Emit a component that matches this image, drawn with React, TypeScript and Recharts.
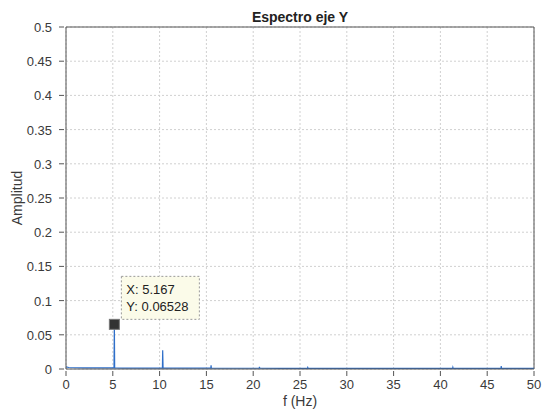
import React from 'react';
import {
  LineChart,
  Line,
  XAxis,
  YAxis,
  CartesianGrid,
  ReferenceLine,
  ReferenceDot,
} from 'recharts';

const freqHz = [
  0, 0.3, 1, 2, 3, 4, 5.13, 5.167, 5.2, 6, 8, 10.3, 10.33, 10.37, 12, 15.47, 15.5, 15.53,
  18, 20.64, 20.67, 20.7, 23, 25.8, 25.83, 25.86, 30, 35, 41.3, 41.33, 41.36, 44,
  46.47, 46.5, 46.53, 48, 50,
];
const amplitud = [
  0.003, 0.0022, 0.0018, 0.0016, 0.0015, 0.0015, 0.0015, 0.06528, 0.0015, 0.0014, 0.0013,
  0.0013, 0.0275, 0.0013, 0.0012, 0.0012, 0.0055, 0.0012, 0.0011, 0.0011, 0.0032, 0.0011,
  0.001, 0.001, 0.0022, 0.001, 0.001, 0.001, 0.001, 0.0025, 0.001, 0.001, 0.001, 0.0042,
  0.001, 0.001, 0.001,
];
const xTicks = [0, 5, 10, 15, 20, 25, 30, 35, 40, 45, 50];
const yTicks = [0, 0.05, 0.1, 0.15, 0.2, 0.25, 0.3, 0.35, 0.4, 0.45, 0.5];
const cursor = { x: 5.167, y: 0.06528 };

const data = freqHz.map((f, i) => ({ f, a: amplitud[i] }));

const FONT = 'Liberation Sans, Arial, sans-serif';
const TEXT = '#3a3a3a';
const AXIS = '#555';

function XTick(props: any) {
  const { x, y, payload } = props;
  return (
    <g>
      <line x1={x} x2={x} y1={y - 1} y2={y - 6} stroke={AXIS} />
      <text x={x} y={y + 12} textAnchor="middle" fontSize={13} fill={TEXT} fontFamily={FONT}>
        {payload.value}
      </text>
    </g>
  );
}

function YTick(props: any) {
  const { x, y, payload } = props;
  return (
    <g>
      <line x1={x + 1} x2={x + 6} y1={y} y2={y} stroke={AXIS} />
      <text x={x - 6} y={y + 5} textAnchor="end" fontSize={13} fill={TEXT} fontFamily={FONT}>
        {payload.value}
      </text>
    </g>
  );
}

function DataTip(props: any) {
  const { cx, cy } = props;
  return (
    <g>
      <rect x={cx - 5} y={cy - 5} width={10} height={10} fill="#333" stroke="#777" />
      <rect
        x={cx + 7}
        y={cy - 48}
        width={78}
        height={43}
        fill="#fbfbe9"
        stroke="#999"
        strokeDasharray="2 2"
      />
      <text x={cx + 12} y={cy - 30} fontSize={13} fill="#222" fontFamily={FONT}>
        X: {cursor.x}
      </text>
      <text x={cx + 12} y={cy - 13} fontSize={13} fill="#222" fontFamily={FONT}>
        Y: {cursor.y}
      </text>
    </g>
  );
}

export default function App() {
  return (
    <div style={{ position: 'absolute', left: 0, top: 0, width: 542, height: 412, background: '#fff' }}>
      <svg width={542} height={412} style={{ position: 'absolute', left: 0, top: 0, pointerEvents: 'none' }}>
        <text x={300} y={22} textAnchor="middle" fontSize={14} fontWeight="bold" fill="#222" fontFamily={FONT}>
          Espectro eje Y
        </text>
        <text x={300} y={406} textAnchor="middle" fontSize={14} fill={TEXT} fontFamily={FONT}>
          f (Hz)
        </text>
        <text
          x={22}
          y={198}
          textAnchor="middle"
          fontSize={14}
          fill={TEXT}
          fontFamily={FONT}
          transform="rotate(-90 22 198)"
        >
          Amplitud
        </text>
      </svg>
      <LineChart
        width={542}
        height={412}
        data={data}
        margin={{ top: 27, right: 8, left: 16, bottom: 13 }}
      >
        <CartesianGrid stroke="#d0d0d0" strokeDasharray="2 2" />
        <XAxis
          dataKey="f"
          type="number"
          domain={[0, 50]}
          ticks={xTicks}
          height={30}
          stroke={AXIS}
          tickLine={false}
          tick={<XTick />}
          interval={0}
        />
        <YAxis
          type="number"
          domain={[0, 0.5]}
          ticks={yTicks}
          width={50}
          stroke={AXIS}
          tickLine={false}
          tick={<YTick />}
          interval={0}
        />
        <ReferenceLine x={50} stroke={AXIS} />
        <ReferenceLine y={0.5} stroke={AXIS} />
        <Line
          dataKey="a"
          stroke="#2f6fc9"
          strokeWidth={1.2}
          dot={false}
          isAnimationActive={false}
          type="linear"
        />
        <ReferenceDot x={cursor.x} y={cursor.y} shape={<DataTip />} />
      </LineChart>
    </div>
  );
}
